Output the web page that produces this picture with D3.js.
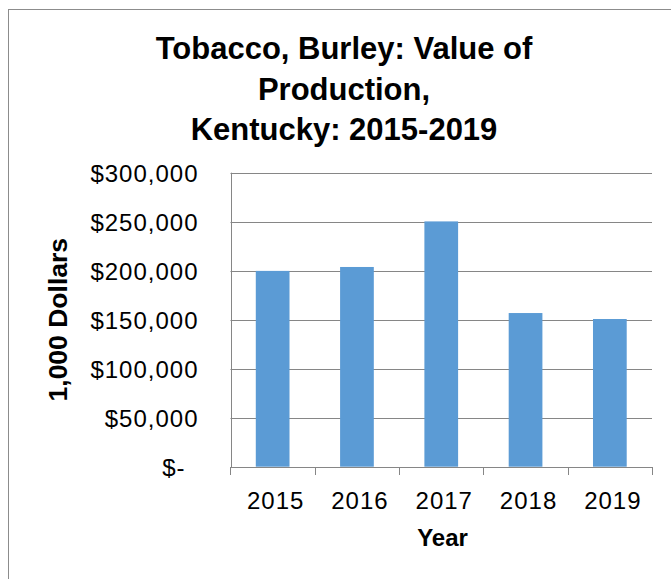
<!DOCTYPE html>
<html>
<head>
<meta charset="utf-8">
<script src="https://cdn.jsdelivr.net/npm/d3@7"></script>
<style>
  html, body { margin: 0; padding: 0; background: #fff; }
  svg { display: block; font-family: "Liberation Sans", Arial, sans-serif; }
</style>
</head>
<body>
<div id="chart"></div>
<script>
const categories = ["2015", "2016", "2017", "2018", "2019"];
const values = [199800, 203800, 250300, 156800, 150700];
const yTicks = [0, 50000, 100000, 150000, 200000, 250000, 300000];
const titleLines = ["Tobacco, Burley: Value of", "Production,", "Kentucky: 2015-2019"];
const yTitle = "1,000 Dollars";
const xTitle = "Year";

const W = 671, H = 579;
const plot = { left: 230.5, right: 652, top: 172.7, bottom: 466.7 };
const gridColor = "#868686";
const barColor = "#5B9BD5";

const svg = d3.select("#chart").append("svg")
  .attr("width", W).attr("height", H);

// outer chart frame
svg.append("rect")
  .attr("x", 8.5).attr("y", 9.5)
  .attr("width", 720).attr("height", 720)
  .attr("fill", "#fff").attr("stroke", "#8c8c8c").attr("stroke-width", 1);

// title
const title = svg.append("text")
  .attr("text-anchor", "middle")
  .attr("font-size", 31).attr("font-weight", "bold").attr("fill", "#000");
titleLines.forEach((t, i) => {
  title.append("tspan").attr("x", 344).attr("y", 59 + i * 40.5).text(t);
});

const x = d3.scaleBand().domain(categories)
  .range([plot.left, plot.right])
  .paddingInner(0.6).paddingOuter(0.3);
const y = d3.scaleLinear().domain([0, 300000])
  .range([plot.bottom, plot.top]);

// gridlines
svg.append("g")
  .selectAll("line").data(yTicks.filter(d => d > 0)).join("line")
  .attr("x1", plot.left).attr("x2", plot.right)
  .attr("y1", d => Math.round(y(d)) + 0.5).attr("y2", d => Math.round(y(d)) + 0.5)
  .attr("stroke", gridColor).attr("stroke-width", 1);

// bars
svg.append("g")
  .selectAll("rect").data(categories).join("rect")
  .attr("x", d => x(d))
  .attr("y", (d, i) => y(values[i]))
  .attr("width", x.bandwidth())
  .attr("height", (d, i) => y(0) - y(values[i]))
  .attr("fill", barColor);

// y axis
const fmt = d => d === 0 ? "$-" : "$" + d3.format(",")(d);
const yAxis = svg.append("g")
  .attr("transform", `translate(${Math.round(plot.left) + 0.5},0)`)
  .call(d3.axisLeft(y).tickValues(yTicks).tickFormat(fmt).tickSize(0).tickPadding(33));
yAxis.select(".domain").attr("stroke", gridColor).attr("d", `M0,${plot.top}V${Math.round(plot.bottom) + 0.5}`);
yAxis.selectAll("text")
  .attr("font-size", 24).attr("font-family", "Liberation Sans, Arial, sans-serif")
  .attr("letter-spacing", "1px").attr("fill", "#000")
  .attr("dy", "0.36em")
  .attr("dx", d => d === 0 ? -13 : 0);

// x axis with ticks at category boundaries
const xAxisG = svg.append("g");
xAxisG.append("line")
  .attr("x1", plot.left).attr("x2", plot.right)
  .attr("y1", Math.round(plot.bottom) + 0.5).attr("y2", Math.round(plot.bottom) + 0.5)
  .attr("stroke", gridColor);
const step = x.step();
const bounds = categories.map(c => x(c) + x.bandwidth() / 2 - step / 2)
  .concat([x(categories[categories.length - 1]) + x.bandwidth() / 2 + step / 2]);
xAxisG.selectAll("line.tick").data(bounds).join("line")
  .attr("class", "tick")
  .attr("x1", d => Math.round(d) + 0.5).attr("x2", d => Math.round(d) + 0.5)
  .attr("y1", Math.round(plot.bottom)).attr("y2", Math.round(plot.bottom) + 8)
  .attr("stroke", gridColor);
xAxisG.selectAll("text").data(categories).join("text")
  .attr("x", d => x(d) + x.bandwidth() / 2 + 3)
  .attr("y", 509)
  .attr("text-anchor", "middle")
  .attr("font-size", 24).attr("letter-spacing", "1px").attr("fill", "#000")
  .text(d => d);

// axis titles
svg.append("text")
  .attr("x", 442.5).attr("y", 546)
  .attr("text-anchor", "middle")
  .attr("font-size", 24).attr("font-weight", "bold").attr("fill", "#000")
  .text(xTitle);

svg.append("text")
  .attr("transform", `translate(67,${(plot.top + plot.bottom) / 2}) rotate(-90)`)
  .attr("text-anchor", "middle")
  .attr("font-size", 26.5).attr("font-weight", "bold").attr("fill", "#000")
  .text(yTitle);
</script>
</body>
</html>
